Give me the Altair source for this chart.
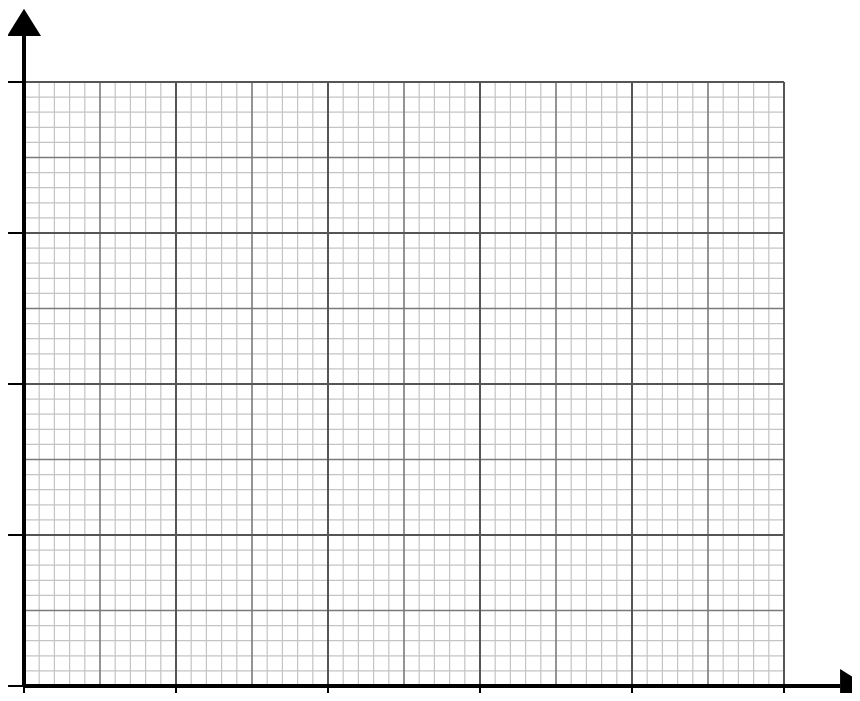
import altair as alt
import pandas as pd

# Graph paper, measured in small-square units
x_lines = list(range(0, 51))      # 50 small squares across
y_lines = list(range(0, 41))      # 40 small squares up
mid_step = 5                      # medium line every 5 small squares
major_step = 10                   # dark line (and axis tick) every 10
x_ticks = [0, 10, 20, 30, 40, 50]
y_ticks = [0, 10, 20, 30, 40]

X_MAX, Y_MAX = x_lines[-1], y_lines[-1]
X_AXIS_END, Y_AXIS_END = 53.7, 43.1     # where the arrow shafts stop
X_ARROW_AT, Y_ARROW_AT = 54.36, 43.72   # arrowhead centres
TICK_LEN_X, TICK_LEN_Y = 1.05, 1.0

W, H = 844, 685
xs = alt.Scale(domain=[-16 / 15.2, (W - 16) / 15.2], nice=False, zero=False)
ys = alt.Scale(domain=[(678 - H) / 15.1, 678 / 15.1], nice=False, zero=False)


def vrules(xv, y0, y1, color, width):
    df = pd.DataFrame({"x": xv, "y": [y0] * len(xv), "y2": [y1] * len(xv)})
    return alt.Chart(df).mark_rule(color=color, strokeWidth=width).encode(
        x=alt.X("x:Q", scale=xs, axis=None),
        y=alt.Y("y:Q", scale=ys, axis=None),
        y2="y2:Q",
    )


def hrules(yv, x0, x1, color, width):
    df = pd.DataFrame({"y": yv, "x": [x0] * len(yv), "x2": [x1] * len(yv)})
    return alt.Chart(df).mark_rule(color=color, strokeWidth=width).encode(
        x=alt.X("x:Q", scale=xs, axis=None),
        x2="x2:Q",
        y=alt.Y("y:Q", scale=ys, axis=None),
    )


minor_x = [v for v in x_lines if v % mid_step]
minor_y = [v for v in y_lines if v % mid_step]
mid_x = [v for v in x_lines if v % mid_step == 0 and v % major_step]
mid_y = [v for v in y_lines if v % mid_step == 0 and v % major_step]
maj_x = [v for v in x_lines if v % major_step == 0]
maj_y = [v for v in y_lines if v % major_step == 0]

layers = [
    vrules(minor_x, 0, Y_MAX, "#c4c4c4", 1.2),
    hrules(minor_y, 0, X_MAX, "#c4c4c4", 1.2),
    vrules(mid_x, 0, Y_MAX, "#7a7a7a", 1.6),
    hrules(mid_y, 0, X_MAX, "#7a7a7a", 1.6),
    vrules(maj_x, 0, Y_MAX, "#555555", 2),
    hrules(maj_y, 0, X_MAX, "#555555", 2),
    # ticks
    hrules(y_ticks, -TICK_LEN_X, 0, "black", 2),
    vrules(x_ticks, -TICK_LEN_Y, 0, "black", 2),
    # axes
    vrules([0], 0, Y_AXIS_END, "black", 4),
    hrules([0], 0, X_AXIS_END, "black", 4),
]

arrow_up = pd.DataFrame({"x": [0], "y": [Y_ARROW_AT]})
arrow_right = pd.DataFrame({"x": [X_ARROW_AT], "y": [0]})

layers.append(
    alt.Chart(arrow_up).mark_point(
        shape="M0,-1L1,0.6L-1,0.6Z", size=1156, filled=True,
        color="black", opacity=1, strokeWidth=0
    ).encode(x=alt.X("x:Q", scale=xs, axis=None), y=alt.Y("y:Q", scale=ys, axis=None))
)
layers.append(
    alt.Chart(arrow_right).mark_point(
        shape="M1,0L-0.6,-1L-0.6,1Z", size=1156, filled=True,
        color="black", opacity=1, strokeWidth=0
    ).encode(x=alt.X("x:Q", scale=xs, axis=None), y=alt.Y("y:Q", scale=ys, axis=None))
)

chart = (
    alt.layer(*layers)
    .properties(width=W, height=H, autosize=alt.AutoSizeParams(type="none"), padding=0)
    .configure_view(strokeWidth=0)
)

chart.save("out.html", embed_options={"renderer": "svg", "actions": False})
